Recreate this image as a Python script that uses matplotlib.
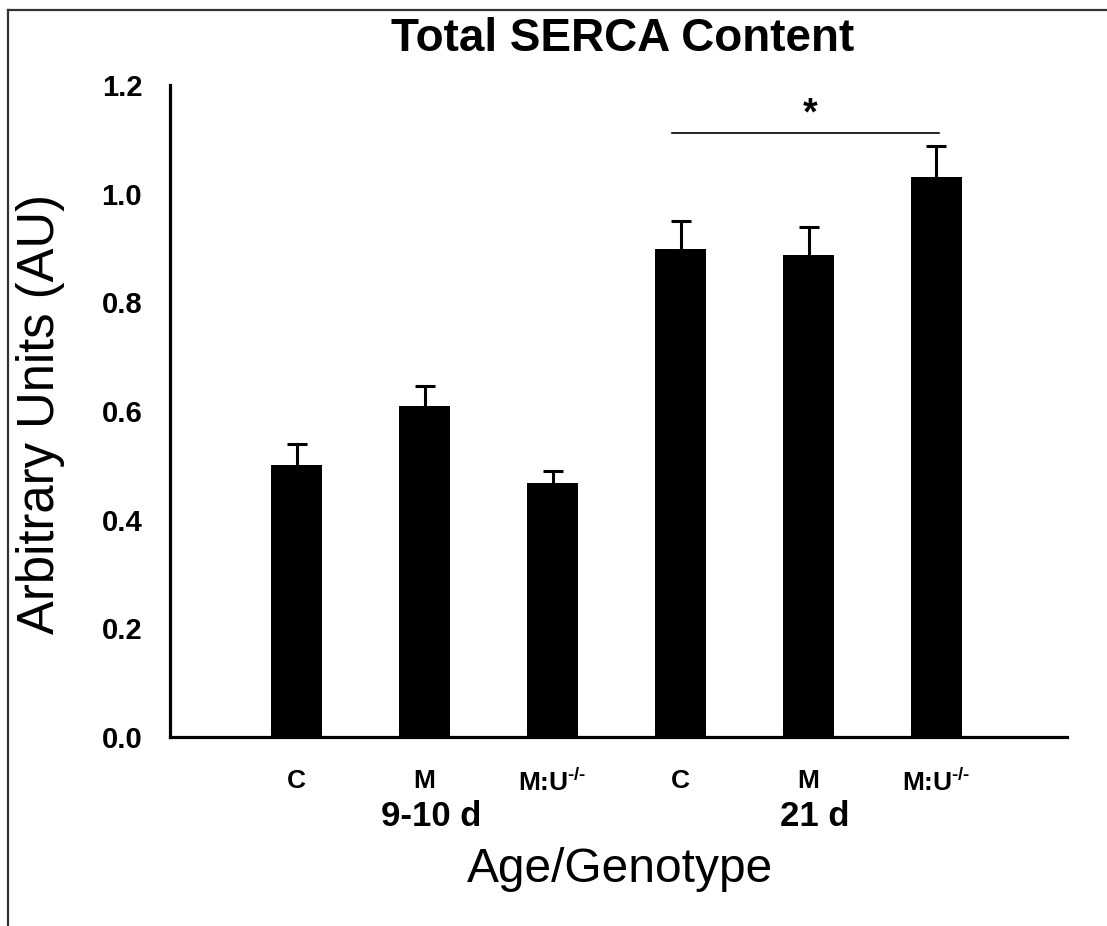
import numpy as np
import matplotlib
matplotlib.use("Agg")
import matplotlib.pyplot as plt
from matplotlib.lines import Line2D

plt.rcParams['font.family'] = ['Liberation Sans', 'DejaVu Sans']
plt.rcParams['mathtext.fontset'] = 'custom'
plt.rcParams['mathtext.rm'] = 'Liberation Sans:bold'
plt.rcParams['mathtext.it'] = 'Liberation Sans:bold'
plt.rcParams['mathtext.bf'] = 'Liberation Sans:bold'

# data
genotypes = ['C', 'M', r'M:U$^{\text{-/-}}$', 'C', 'M', r'M:U$^{\text{-/-}}$']
ages = ['9-10 d', '21 d']
means = [0.50, 0.61, 0.467, 0.898, 0.887, 1.031]
errors = [0.040, 0.036, 0.023, 0.052, 0.052, 0.057]
sig_pair = (3, 5)  # C 21 d vs M:U-/- 21 d
sig_label = '*'

W, H = 1107, 926
fig = plt.figure(figsize=(W / 100, H / 100), dpi=100)
ax = fig.add_axes([170 / W, 1 - 737 / H, 897 / W, 652 / H])

x = np.arange(len(means))
ax.bar(x, means, width=0.396, color='black', zorder=2)
_, caps, _ = ax.errorbar(x, means, yerr=[np.zeros(len(errors)), errors], fmt='none',
                         ecolor='black', elinewidth=2.2, capsize=7.5, capthick=2.2,
                         zorder=1)
caps[0].set_visible(False)  # only the upper half of the error bar is shown

ax.set_xlim(-0.99, 6.02)
ax.set_ylim(0, 1.2)
ax.set_yticks(np.arange(0, 1.21, 0.2))
ax.set_yticklabels([f'{v:.1f}' for v in np.arange(0, 1.21, 0.2)])
ax.set_xticks(x)
ax.set_xticklabels(genotypes)

for side in ['top', 'right']:
    ax.spines[side].set_visible(False)
for side in ['left', 'bottom']:
    ax.spines[side].set_linewidth(2.3)
ax.tick_params(axis='y', length=0, pad=20, labelsize=21)
ax.tick_params(axis='x', length=0, pad=23, labelsize=19)
for lab in ax.get_yticklabels() + ax.get_xticklabels():
    lab.set_fontweight('bold')

# age group labels under the middle bar of each group
for i, age in enumerate(ages):
    ax.annotate(age, xy=(1.05 + 3 * i, 0), xycoords=('data', 'axes fraction'),
                xytext=(0, -45), textcoords='offset points',
                ha='center', va='top', fontsize=25, fontweight='bold')

# significance bar
ax.plot([sig_pair[0] - 0.07, sig_pair[1] + 0.02], [1.112, 1.112],
        color='black', lw=1.2, clip_on=False)
ax.text((sig_pair[0] + sig_pair[1]) / 2 + 0.01, 1.145, sig_label, ha='center',
        va='center', fontsize=27, fontweight='bold')

fig.text(623 / W, 1 - 39 / H, 'Total SERCA Content', ha='center', va='center',
         fontsize=33, fontweight='bold')
fig.text(41 / W, 1 - 414 / H, 'Arbitrary Units (AU)', ha='center', va='center',
         rotation=90, fontsize=36.5)
fig.text(620 / W, 1 - 869 / H, 'Age/Genotype', ha='center', va='center',
         fontsize=34.5)

# outer frame (left and top edges only)
fig.add_artist(Line2D([8 / W, 8 / W], [0, 1 - 10 / H], color='#333333', lw=1.6))
fig.add_artist(Line2D([8 / W, 1], [1 - 10 / H, 1 - 10 / H], color='#333333', lw=1.6))

fig.savefig('out.png', dpi=100)
